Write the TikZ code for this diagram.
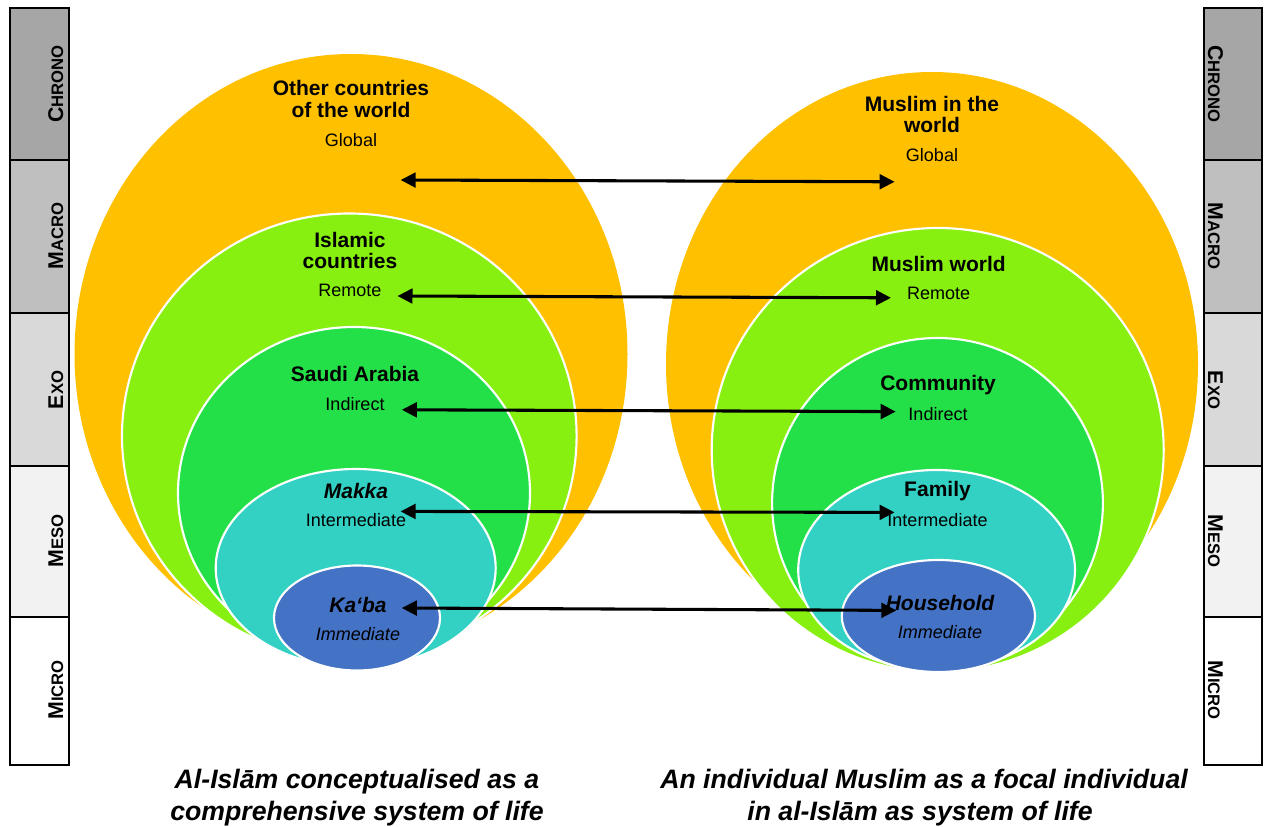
\documentclass[tikz,border=0pt]{standalone}
\usepackage{fontspec}
\setmainfont{Liberation Sans}
\usetikzlibrary{arrows.meta}

% fill colours of the nested spheres
\definecolor{cOrange}{HTML}{FFC000}
\definecolor{cLime}{HTML}{88F010}
\definecolor{cGreen}{HTML}{24E048}
\definecolor{cTeal}{HTML}{33D1C4}
\definecolor{cBlue}{HTML}{4472C4}
% shades of the level bars
\definecolor{gChrono}{HTML}{A6A6A6}
\definecolor{gMacro}{HTML}{BFBFBF}
\definecolor{gExo}{HTML}{D9D9D9}
\definecolor{gMeso}{HTML}{F2F2F2}

% hand-made small caps for the level names
\newcommand\levname[2]{{\bfseries\fontsize{16}{16}\selectfont #1\fontsize{12.5}{12.5}\selectfont #2}}

\begin{document}
\begin{tikzpicture}[x=0.75pt,y=-0.75pt,
  sphere/.style={draw=white,line width=1.6pt},
  levL/.style={rotate=90,anchor=base,inner sep=0pt},
  levR/.style={rotate=-90,anchor=base,inner sep=0pt},
  title/.style={anchor=base,inner sep=0pt,font=\bfseries\fontsize{15.75}{15.75}\selectfont},
  ititle/.style={anchor=base,inner sep=0pt,font=\bfseries\itshape\fontsize{15.75}{15.75}\selectfont},
  sub/.style={anchor=base,inner sep=0pt,font=\fontsize{13.5}{13.5}\selectfont},
  isub/.style={anchor=base,inner sep=0pt,font=\itshape\fontsize{13.5}{13.5}\selectfont},
  caption/.style={anchor=base,inner sep=0pt,font=\bfseries\itshape\fontsize{20}{20}\selectfont},
  link/.style={{Triangle[length=11.25pt,width=11pt]}-{Triangle[length=11.25pt,width=11pt]},line width=2.3pt,black}]

\useasboundingbox (0,0) rectangle (1265,827);

% level bars on both sides
\foreach \ya/\yb/\col in {8/160/gChrono,160/313/gMacro,313/466/gExo,466/617/gMeso,617/765/white}{
  \filldraw[fill=\col,draw=black,line width=1.5pt] (10,\ya) rectangle (69,\yb);
  \filldraw[fill=\col,draw=black,line width=1.5pt] (1204,\ya) rectangle (1262,\yb);
}
\node[levL] (lChrono) at (63,84)  {\levname{C}{HRONO}};
\node[levL] (lMacro)  at (63,236) {\levname{M}{ACRO}};
\node[levL] (lExo)    at (63,390) {\levname{E}{XO}};
\node[levL] (lMeso)   at (63,541) {\levname{M}{ESO}};
\node[levL] (lMicro)  at (63,690) {\levname{M}{ICRO}};
\node[levR] (rChrono) at (1208,84)  {\levname{C}{HRONO}};
\node[levR] (rMacro)  at (1208,236) {\levname{M}{ACRO}};
\node[levR] (rExo)    at (1208,390) {\levname{E}{XO}};
\node[levR] (rMeso)   at (1208,541) {\levname{M}{ESO}};
\node[levR] (rMicro)  at (1208,690) {\levname{M}{ICRO}};

% left system: al-Islam as a whole
\fill[cOrange] (351,354) ellipse [x radius=276.5,y radius=300];
\filldraw[sphere,fill=cLime]  (349.3,436) ellipse [x radius=227.3,y radius=222.5];
\filldraw[sphere,fill=cGreen] (354,493)   ellipse [x radius=176,y radius=166];
\filldraw[sphere,fill=cTeal]  (355.7,568) ellipse [x radius=140,y radius=99];
\filldraw[sphere,fill=cBlue]  (357,618)   ellipse [x radius=83,y radius=52.5];

% right system: the individual Muslim
\fill[cOrange] (932,364) ellipse [x radius=266,y radius=292];
\filldraw[sphere,fill=cLime]  (937.7,450) ellipse [x radius=226,y radius=222];
\filldraw[sphere,fill=cGreen] (937.5,503) ellipse [x radius=165.4,y radius=165];
\filldraw[sphere,fill=cTeal]  (936.6,570) ellipse [x radius=138.4,y radius=100];
\filldraw[sphere,fill=cBlue]  (938.4,616) ellipse [x radius=96.6,y radius=56];

% labels, left
\node[title] (L1a) at (351,95.5)  {Other countries};
\node[title] (L1b) at (351,117.5) {of the world};
\node[sub]   (L1c) at (351,146.5) {Global};
\node[title] (L2a) at (350,247.5) {Islamic};
\node[title] (L2b) at (350,269)   {countries};
\node[sub]   (L2c) at (350,297)   {Remote};
\node[title] (L3a) at (355,382)   {Saudi Arabia};
\node[sub]   (L3b) at (355,411)   {Indirect};
\node[ititle](L4a) at (356,498.5) {Makka};
\node[sub]   (L4b) at (356,527)   {Intermediate};
\node[ititle](L5a) at (358,612.5) {Ka‘ba};
\node[isub]  (L5b) at (358,640.5) {Immediate};

% labels, right
\node[title] (R1a) at (932,112)   {Muslim in the};
\node[title] (R1b) at (932,133)   {world};
\node[sub]   (R1c) at (932,161.5) {Global};
\node[title] (R2a) at (938.6,271.5) {Muslim world};
\node[sub]   (R2b) at (938.6,300)   {Remote};
\node[title] (R3a) at (938,390.5) {Community};
\node[sub]   (R3b) at (938,421)   {Indirect};
\node[title] (R4a) at (937.5,496) {Family};
\node[sub]   (R4b) at (937.5,527) {Intermediate};
\node[ititle](R5a) at (940,610.5) {Household};
\node[isub]  (R5b) at (940,638)   {Immediate};

% ends of the linking arrows
\coordinate (a1) at (400.6,180);   \coordinate (b1) at (894.6,181.8);
\coordinate (a2) at (397.5,296);   \coordinate (b2) at (891,297.8);
\coordinate (a3) at (401.8,409.8); \coordinate (b3) at (895.7,411.6);
\coordinate (a4) at (400.6,511.4); \coordinate (b4) at (894.6,512.4);
\coordinate (a5) at (401.8,608);   \coordinate (b5) at (896.4,610.4);
\foreach \i in {1,...,5}{ \draw[link] (a\i) -- (b\i); }

% captions
\node[caption] (capLa) at (357,788) {Al-Islām conceptualised as a};
\node[caption] (capLb) at (357,820) {comprehensive system of life};
\node[caption] (capRa) at (924,788) {An individual Muslim as a focal individual};
\node[caption] (capRb) at (920,820) {in al-Islām as system of life};
\end{tikzpicture}
\end{document}
